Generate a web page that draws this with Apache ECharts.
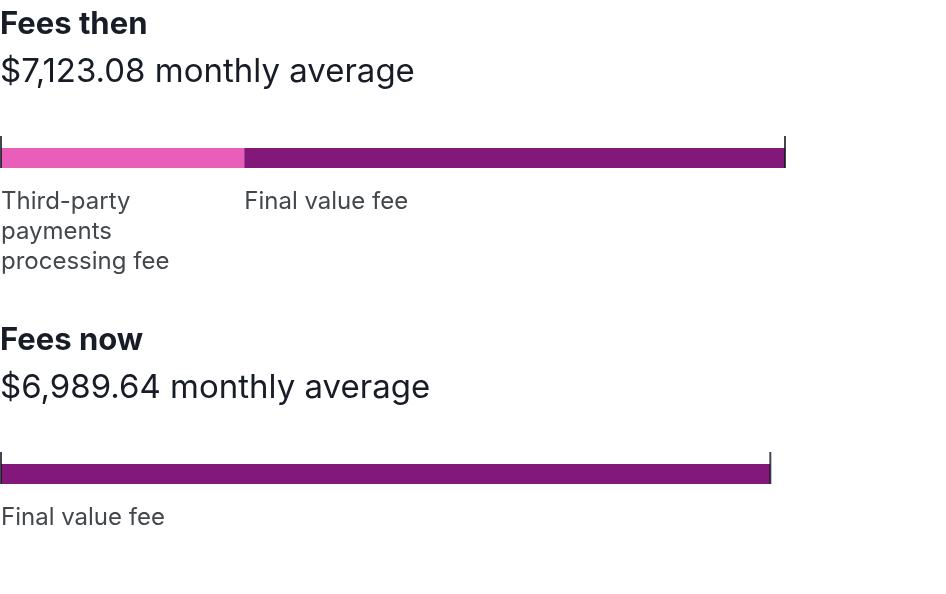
<!DOCTYPE html>
<html><head><meta charset="utf-8">
<script src="https://cdn.jsdelivr.net/npm/echarts@6/dist/echarts.min.js"></script>
<style>html,body{margin:0;padding:0;background:#fff}#c{width:946px;height:594px}</style>
</head><body><div id="c"></div>
<script>
const sectionTitles = ["Fees then", "Fees now"];
const sectionTotals = [7123.08, 6989.64];
const thenSegments = ["Third-party\npayments\nprocessing fee", "Final value fee"];
const thenValues = [2210, 4913.08];
const nowSegments = ["Final value fee"];
const nowValues = [6989.64];
const segmentColors = { "Third-party\npayments\nprocessing fee": "#E95EB9", "Final value fee": "#82197A" };

const FONT = "Inter, 'Noto Sans', sans-serif";
const fmt = v => "$" + v.toLocaleString("en-US", {minimumFractionDigits: 2, maximumFractionDigits: 2}) + " monthly average";
const scaleMax = Math.max(...sectionTotals);
const offset = 316;

const titles = [], grids = [], xAxes = [], yAxes = [], series = [];
const sections = [[thenSegments, thenValues], [nowSegments, nowValues]];
sections.forEach(([names, vals], i) => {
  const dy = i * offset;
  titles.push({
    text: sectionTitles[i], subtext: fmt(sectionTotals[i]),
    left: -5, top: 4 + dy, itemGap: 16,
    textStyle: {fontFamily: FONT, fontSize: 31, fontWeight: 700, color: "#171c26"},
    subtextStyle: {fontFamily: FONT, fontSize: 33, fontWeight: 400, color: "#171c26"}
  });
  grids.push({left: 1, width: 784, top: 136 + dy, height: 44, containLabel: false});
  xAxes.push({type: "value", gridIndex: i, min: 0, max: scaleMax, show: false});
  yAxes.push({type: "category", gridIndex: i, data: ["x"], show: false});
  names.forEach((n, j) => {
    series.push({
      type: "bar", name: n, xAxisIndex: i, yAxisIndex: i, stack: "s" + i,
      barWidth: 20, data: [vals[j]], silent: true,
      itemStyle: {color: segmentColors[n]},
      label: {show: true, position: [0, 39], align: "left", verticalAlign: "top",
        formatter: n, fontFamily: FONT, fontSize: 24, lineHeight: 30, color: "#43474c"}
    });
  });
  series.push({
    type: "scatter", xAxisIndex: i, yAxisIndex: i, silent: true,
    symbol: "rect", symbolSize: [2, 32], symbolOffset: [0, -6],
    itemStyle: {color: "#111720"}, z: 5,
    data: [[0, "x"], [sectionTotals[i], "x"]]
  });
});

const chart = echarts.init(document.getElementById("c"), null, {renderer: "canvas"});
chart.setOption({animation: false, title: titles, grid: grids, xAxis: xAxes, yAxis: yAxes, series: series});
</script></body></html>
